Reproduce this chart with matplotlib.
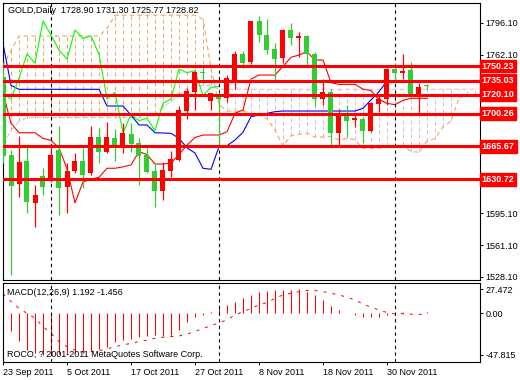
import matplotlib
matplotlib.use("Agg")
import matplotlib.pyplot as plt
from matplotlib.transforms import blended_transform_factory

plt.rcParams['font.family'] = ['Liberation Sans', 'DejaVu Sans']
plt.rcParams['font.size'] = 6.5

# daily bars, 23 Sep 2011 .. 7 Dec 2011 (index 0 = 23 Sep)
opens = [1739, 1656.5, 1625.6, 1650.2, 1606.2, 1634.4, 1630.1, 1661.8, 1623.1, 1639.6,
         1650.2, 1637.2, 1675.8, 1660, 1674.8, 1665.3, 1678.7, 1668.9, 1656.5, 1639.6,
         1618.8, 1639.6, 1651.2, 1703.3, 1723.3, 1744.4, 1713.8, 1720.9, 1716.3, 1735.6,
         1763.1, 1754.3, 1797.9, 1783.1, 1768, 1758.5, 1788.4, 1779.6, 1782.1, 1762.8,
         1715.6, 1722.7, 1680, 1698.7, 1693.4, 1694.5, 1682.2, 1710.3, 1715.3, 1746.9,
         1743.3, 1746.2, 1719.8, 1728.90]
highs = [1755, 1661.8, 1676.6, 1667.8, 1624.9, 1642.5, 1667.8, 1687.1, 1647.8, 1658.9,
         1663.6, 1687.1, 1685.3, 1691, 1683.9, 1690, 1690, 1674.8, 1664.2, 1647.8,
         1648.8, 1660.7, 1708.2, 1726.9, 1745.5, 1751.5, 1722.2, 1722.5, 1740.9, 1766.6,
         1766.6, 1798.2, 1803.5, 1800, 1775, 1789, 1796.1, 1786.6, 1783.1, 1765.5,
         1736.4, 1725.8, 1704.7, 1709.3, 1698.7, 1696.9, 1712.7, 1718.8, 1748, 1753.9,
         1763.1, 1755, 1732.2, 1731.30]
lows = [1648, 1529.9, 1612.5, 1595, 1580.9, 1614.3, 1628.3, 1593.2, 1595, 1637.2,
        1621.4, 1635.4, 1647.8, 1658.9, 1650.5, 1658.9, 1660, 1624.9, 1637, 1602,
        1609, 1633.6, 1650, 1694.5, 1704, 1732.2, 1704, 1665.3, 1712.7, 1725.8,
        1748, 1752.5, 1776.1, 1763.1, 1734.9, 1753.3, 1772.6, 1759.6, 1751.5, 1708.2,
        1709.3, 1665.3, 1665.3, 1675.8, 1686.4, 1669.5, 1681.1, 1702.2, 1709.3, 1733.8,
        1736.7, 1718, 1700.5, 1725.77]
closes = [1655, 1623.8, 1648.8, 1607.2, 1614.3, 1622.4, 1656.5, 1622, 1639.6, 1650.2,
          1635.4, 1675.8, 1660, 1675.8, 1666, 1680, 1668.1, 1655.5, 1638.9, 1618.5,
          1640.7, 1652.3, 1704, 1724.4, 1744.4, 1742.7, 1721.6, 1715.6, 1737.4, 1763.1,
          1753.3, 1797.9, 1783.1, 1767.3, 1757.8, 1788.4, 1779.6, 1782.1, 1762.8, 1715.6,
          1722.7, 1680, 1699.5, 1692.7, 1695.2, 1682.2, 1711.1, 1715.6, 1747.2, 1743.3,
          1745.5, 1719.1, 1727.9, 1728.82]

# ichimoku lines
tenkan = [1722, 1690, 1680, 1680, 1680, 1674, 1672, 1664, 1642, 1606,
          1628, 1631, 1633, 1642.5, 1642.5, 1644, 1646, 1660, 1657, 1647,
          1647, 1648, 1657, 1667, 1675, 1677.6, 1677.6, 1677.6, 1681, 1700.5,
          1704, 1736.7, 1740.9, 1740.9, 1740.9, 1750, 1759.6, 1762, 1765.5, 1756.7,
          1756.7, 1732.8, 1731, 1731, 1731, 1726, 1724.5, 1715, 1711, 1709.6,
          1714.2, 1716.3, 1716.3, 1716.3]
kijun = [1774.4, 1730, 1725.8, 1725.8, 1725.8, 1725.8, 1725.8, 1725.8, 1725.8, 1725.8,
         1725.8, 1725.8, 1725.8, 1708.2, 1708.2, 1708.2, 1698.7, 1688.2, 1688.2, 1680.0,
         1679.7, 1679.4, 1674.1, 1664, 1658.6, 1642.5, 1641.4, 1665.3, 1666.3, 1672.3,
         1680.5, 1696.9, 1698.7, 1700.5, 1702.2, 1702.9, 1702.9, 1702.9, 1702.9, 1702.9,
         1702.9, 1702.9, 1702.9, 1702.9, 1702.9, 1705.8, 1714.5, 1723.3, 1734.4, 1734.4,
         1734.4, 1734.4, 1734.4, 1734.4]
# senkou spans, bars 0..59 (run past the last bar)
span_a = [1750, 1767, 1782, 1782, 1782, 1782, 1782, 1782, 1782, 1782,
          1782, 1782, 1782, 1790, 1804, 1804, 1804, 1804, 1804, 1804,
          1804, 1804, 1804, 1804, 1804, 1800, 1748.2, 1710, 1702.9, 1702.9,
          1702.9, 1699.9, 1698.9, 1694.9, 1682.9, 1665.9, 1676.9, 1678.4, 1679.4, 1675.4,
          1675.4, 1676.1, 1672.4, 1674.1, 1672.6, 1663.5, 1663.4, 1663.7, 1665.6, 1665.5,
          1666.8, 1660, 1659.5, 1671.5, 1673.7, 1686.4, 1692.3, 1716.8, 1719.8, 1720.7]
span_b = [1668, 1682, 1692, 1696, 1696, 1696, 1696, 1696, 1696, 1696,
          1696, 1696, 1696, 1696, 1696, 1696, 1696, 1696, 1697, 1700,
          1707, 1713, 1720, 1726, 1729, 1730, 1730, 1725.8, 1725.8, 1725.8,
          1725.8, 1725.8, 1725.8, 1725.8, 1725.8, 1725.8, 1725.8, 1725.8, 1725.8, 1725.8,
          1725.8, 1725.8, 1725.8, 1725.8, 1725.8, 1725.8, 1725.8, 1725.8, 1725.8, 1725.8,
          1725.8, 1725.8, 1725.8, 1725.8, 1725.8, 1725.8, 1725.8, 1725.8, 1725.8, 1725.8]

# MACD(12,26,9): main as histogram, signal dotted
macd_main = [-7, -20, -32, -42, -46, -47.8, -47.5, -47.3, -47, -46,
             -45.5, -43, -41, -38.5, -33, -31, -29, -27, -26, -25,
             -26, -25, -19, -10.5, -4, -2, 2, 5.5, 9.5, 13.5,
             17.5, 21, 25, 26, 26.5, 26.5, 27.2, 27.4, 25, 21,
             15.5, 8.5, 4, 0.3, -1.5, -4.5, -4.5, -4.5, -2, -0.5,
             -0.8, 0.2, 0.8, 1.192]
macd_signal = [22.2, 13.4, 5.7, 0, -5.7, -15.3, -23, -32.6, -38.3, -42.2,
               -44.1, -44.1, -42.9, -41, -38.3, -36.4, -34.5, -32.6, -30.7, -28.8,
               -27.6, -26.8, -26.1, -23.8, -21.1, -17.2, -14.6, -10.7, -7.7, -1.9,
               1.9, 5.7, 9.6, 12.3, 17.2, 21.1, 23, 24.9, 26.1, 26.1,
               24.9, 23, 21.1, 18.4, 15.3, 10.7, 6.9, 3.8, 0.8, -0.8,
               0, -1.1, -1.1, -1.456]

levels = [1750.23, 1735.03, 1720.10, 1700.26, 1665.67, 1630.72]
price_ticks = [1796.10, 1762.10, 1728.10, 1695.10, 1662.10, 1629.10, 1595.10, 1561.10, 1528.10]
# labels covered by the red level boxes are left blank
price_tick_labels = ["1796.10", "1762.10", "", "", "", "", "1595.10", "1561.10", "1528.10"]
macd_ticks = [27.472, 0.0, -47.815]
macd_tick_labels = ["27.472", "0.00", "-47.815"]
month_starts = [6, 27, 49]          # first bar of Oct, Nov, Dec
date_ticks = [0, 8, 16, 24, 32, 40, 48]
date_labels = ["23 Sep 2011", "5 Oct 2011", "17 Oct 2011", "27 Oct 2011",
               "8 Nov 2011", "18 Nov 2011", "30 Nov 2011"]

BULL = "#ff0000"
BEAR = "#32cd32"

W, H = 520, 380
fig = plt.figure(figsize=(W / 100, H / 100), dpi=100)
ax = fig.add_axes([3 / W, 1 - 280 / H, 477 / W, 277 / H])
ax2 = fig.add_axes([3 / W, 1 - 362 / H, 477 / W, 79 / H])

xmax = 477 / 8  # 8 px per bar
for a in (ax, ax2):
    a.set_xlim(0, xmax)
    for s in a.spines.values():
        s.set_linewidth(0.8)
        s.set_color("black")
ax.set_ylim(1524.6, 1816.9)
ax2.set_ylim(-56.0, 34.8)

bars = list(range(len(closes)))
cloud_bars = list(range(len(span_a)))

# cloud: dotted verticals between the spans
for i in cloud_bars:
    lo, hi = min(span_a[i], span_b[i]), max(span_a[i], span_b[i])
    col = "#f4a460" if span_a[i] >= span_b[i] else "#d8bfd8"
    ax.vlines(i, lo, hi, color=col, lw=0.72, linestyles=(0, (4, 3)), zorder=1)
ax.plot(cloud_bars, span_a, color="#f4a460", lw=0.8, ls=(0, (4, 3)), zorder=1.2)
ax.plot(cloud_bars, span_b, color="#d8bfd8", lw=0.8, ls=(0, (4, 3)), zorder=1.2)

ax.plot(bars, kijun, color="#0000ff", lw=0.8, zorder=2)
ax.plot(bars, tenkan, color="#ff0000", lw=0.8, zorder=2)
ax.plot(bars[:len(closes) - 26], closes[26:], color="#00ff00", lw=0.8, zorder=2)

for a in (ax, ax2):
    for m in month_starts:
        a.axvline(m, color="black", lw=0.8, ls=(0, (3, 3)), zorder=2.5)

# candles
for i in bars:
    o, h, l, c = opens[i], highs[i], lows[i], closes[i]
    col = BULL if c >= o else BEAR
    ax.vlines(i, l, h, color=col, lw=0.9, zorder=3)
    ax.bar(i, max(abs(c - o), 1.3), bottom=min(o, c), width=0.625,
           color=col, linewidth=0, zorder=3)

for lv in levels:
    ax.axhline(lv, color="red", lw=2.2, zorder=4)

ax.set_xticks([])
ax.yaxis.tick_right()
ax.set_yticks(price_ticks)
ax.set_yticklabels(price_tick_labels)
ax.tick_params(axis="y", direction="out", length=2.5, width=0.7, pad=1.5, labelsize=6.5)

trans = blended_transform_factory(ax.transAxes, ax.transData)
for lv in levels:
    ax.text(1.004, lv, "%.2f" % lv, transform=trans, ha="left", va="center",
            color="white", fontsize=6.5, fontweight="bold", zorder=10, clip_on=False,
            bbox=dict(boxstyle="square,pad=0.2", fc="red", ec="red"))

# MACD panel
ax2.vlines(bars, 0, macd_main, color="red", lw=0.75)
ax2.plot(bars, macd_signal, color="red", lw=0.72, ls=(0, (3, 6)))
ax2.yaxis.tick_right()
ax2.set_yticks(macd_ticks)
ax2.set_yticklabels(macd_tick_labels)
ax2.tick_params(axis="y", direction="out", length=2.5, width=0.7, pad=1.5, labelsize=6.5)
ax2.set_xticks(date_ticks)
ax2.set_xticklabels(date_labels)
for lbl in ax2.get_xticklabels():
    lbl.set_ha("left")
ax2.tick_params(axis="x", direction="out", length=2.5, width=0.7, pad=1.5, labelsize=6.5)

fig.text(8 / W, 1 - 10.5 / H, "GOLD,Daily  1728.90 1731.30 1725.77 1728.82",
         ha="left", va="center", fontsize=6.5)
ax2.text(0.009, 0.88, "MACD(12,26,9) 1.192 -1.456", transform=ax2.transAxes,
         ha="left", va="center", fontsize=6.5)
ax2.text(0.009, 0.09, "ROCO, ? 2001-2011 MetaQuotes Software Corp.", transform=ax2.transAxes,
         ha="left", va="center", fontsize=6.5)

fig.savefig("out.png", dpi=100)
